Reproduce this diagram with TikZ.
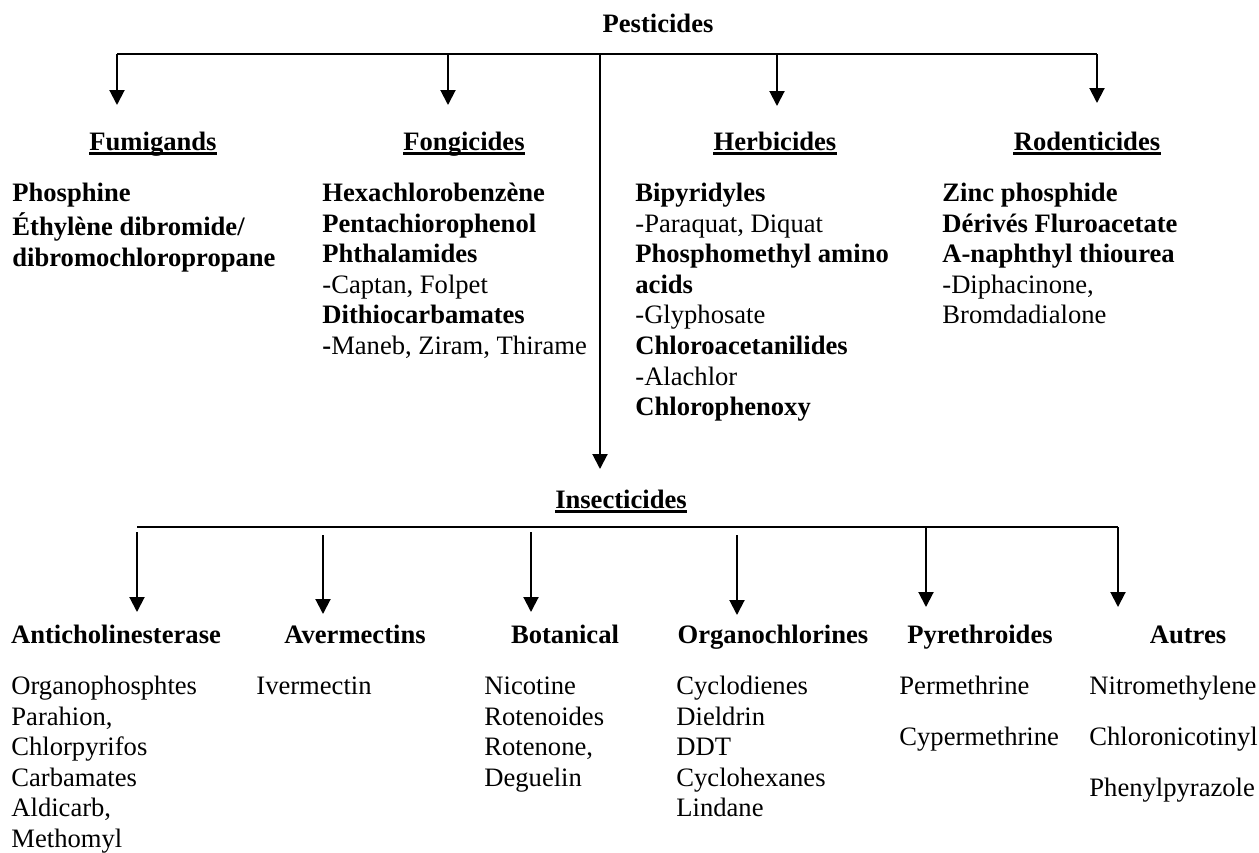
\documentclass[tikz,border=0pt]{standalone}
\usepackage{fontspec}
\setmainfont{Liberation Serif}
\usetikzlibrary{arrows.meta}

\begin{document}
\begin{tikzpicture}[x=0.5pt,y=-0.5pt,>={Triangle[width=7.5pt,length=7.5pt]},
  every node/.style={inner sep=0pt,font=\fontsize{13.3}{15.3}\selectfont},
  titre/.style={anchor=base,font=\fontsize{13.3}{15.3}\selectfont\bfseries},
  liste/.style={anchor=north west,align=left},
  fleche/.style={->,line width=1pt},
  bus/.style={line width=0.75pt},
  souligne/.style={line width=1.1pt}]
\useasboundingbox (0,0) rectangle (1259,852);

% titres
\node[titre] (pest) at (658,32) {Pesticides};
\node[titre] (fum) at (153,150) {Fumigands};
\node[titre] (fon) at (464,150) {Fongicides};
\node[titre] (her) at (775,150) {Herbicides};
\node[titre] (rod) at (1087,150) {Rodenticides};
\node[titre] (ins) at (621,508) {Insecticides};
\foreach \n in {fum,fon,her,rod,ins}
  \draw[souligne] ([yshift=-1.75pt]\n.base west) -- ([yshift=-1.75pt]\n.base east);

% listes du haut
\node[liste] (fum-l) at (12,179.6) {\strut\textbf{Phosphine}\\
  \textbf{Éthylène dibromide/}\\ \textbf{dibromochloropropane}};
\node[liste] (fon-l) at (322,179.6) {\strut\textbf{Hexachlorobenzène}\\
  \textbf{Pentachiorophenol}\\ \textbf{Phthalamides}\\ -Captan, Folpet\\
  \textbf{Dithiocarbamates}\\ \textbf{-}Maneb, Ziram, Thirame};
\node[liste] (her-l) at (635,179.6) {\strut\textbf{Bipyridyles}\\
  -Paraquat, Diquat\\ \textbf{Phosphomethyl amino}\\ \textbf{acids}\\
  -Glyphosate\\ \textbf{Chloroacetanilides}\\ -Alachlor\\ \textbf{Chlorophenoxy}};
\node[liste] (rod-l) at (942,179.6) {\strut\textbf{Zinc phosphide}\\
  \textbf{Dérivés Fluroacetate}\\ \textbf{A-naphthyl thiourea}\\
  -Diphacinone,\\ Bromdadialone};

% fleches du haut
\coordinate (bus-g) at (117,54);
\coordinate (bus-d) at (1097,54);
\draw[bus] (bus-g) -- (bus-d);
\foreach \n/\x/\t in {fum/117/105,fon/448/105,her/777/106,rod/1097/103}{
  \coordinate (haut-\n) at (\x,54);
  \coordinate (pointe-\n) at (\x,\t);
  \draw[fleche] (haut-\n) -- (pointe-\n);
}
\coordinate (haut-ins) at (600,54);
\coordinate (pointe-ins) at (600,469);
\draw[fleche] (haut-ins) -- (pointe-ins);

% insecticides
\node[titre] (ach) at (116,643) {Anticholinesterase};
\node[titre] (ave) at (355,643) {Avermectins};
\node[titre] (bot) at (565,643) {Botanical};
\node[titre] (org) at (773,643) {Organochlorines};
\node[titre] (pyr) at (980,643) {Pyrethroides};
\node[titre] (aut) at (1188,643) {Autres};

\node[liste] (ach-l) at (11,672.6) {\strut Organophosphtes\\ Parahion,\\
  Chlorpyrifos\\ Carbamates\\ Aldicarb,\\ Methomyl};
\node[liste] (ave-l) at (256,672.6) {\strut Ivermectin};
\node[liste] (bot-l) at (484,672.6) {\strut Nicotine\\ Rotenoides\\
  Rotenone,\\ Deguelin};
\node[liste] (org-l) at (676,672.6) {\strut Cyclodienes\\ Dieldrin\\ DDT\\
  Cyclohexanes\\ Lindane};
\node[liste] (pyr-l) at (899,672.6) {\strut Permethrine\\[10.2pt] Cypermethrine};
\node[liste] (aut-l) at (1089,672.6) {\strut Nitromethylene\\[10.2pt]
  Chloronicotinyl\\[10.2pt] Phenylpyrazole};

\coordinate (bas-g) at (137,527);
\coordinate (bas-d) at (1118,527);
\draw[bus,line width=0.7pt] (bas-g) -- (bas-d);
\foreach \n/\x/\d/\t in {ach/137/532/612,ave/323/535/614,bot/531/532/612,
    org/737/535/615,pyr/926/527/607,aut/1118/527/607}{
  \coordinate (dep-\n) at (\x,\d);
  \coordinate (fin-\n) at (\x,\t);
  \draw[fleche] (dep-\n) -- (fin-\n);
}
\end{tikzpicture}
\end{document}
